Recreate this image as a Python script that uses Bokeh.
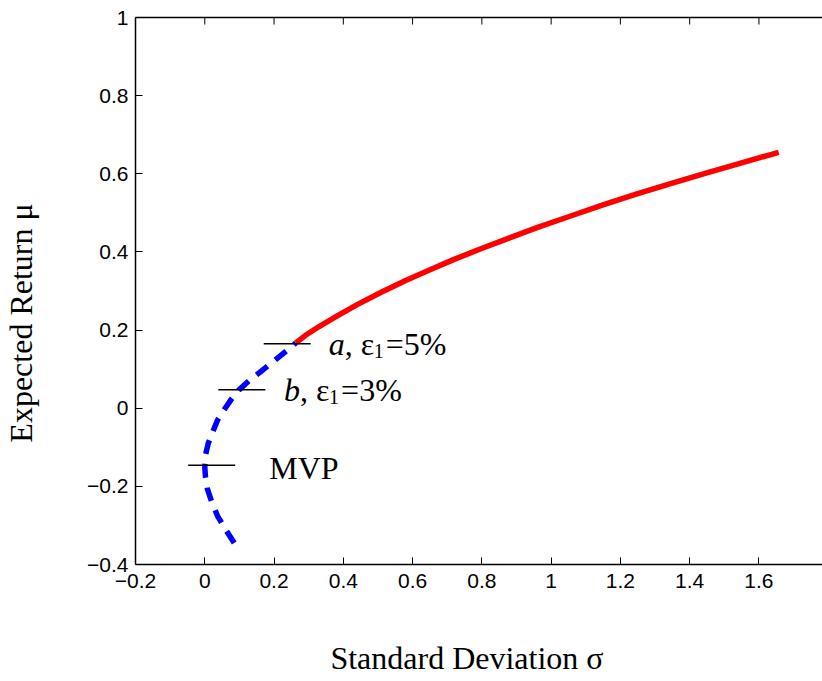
import math
from bokeh.plotting import figure
from bokeh.models import LinearAxis, Label, FixedTicker, Range1d
from bokeh.embed import file_html
from bokeh.resources import INLINE

# ---- data ----
# lower (inefficient) part of the frontier, blue dashed
sigma_low = [0.085, 0.060, 0.037, 0.020, 0.008, 0.002, 0.000, 0.002, 0.010, 0.022,
             0.037, 0.056, 0.076, 0.099, 0.130, 0.162, 0.210, 0.263]
mu_low = [-0.345, -0.310, -0.276, -0.240, -0.208, -0.175, -0.150, -0.120, -0.090, -0.063,
          -0.030, -0.004, 0.022, 0.047, 0.072, 0.094, 0.128, 0.167]

# upper (efficient) part of the frontier, red solid
sigma_high = [0.263, 0.290, 0.330, 0.380, 0.440, 0.508, 0.580, 0.652, 0.720, 0.797,
              0.880, 0.961, 1.050, 1.152, 1.250, 1.345, 1.452, 1.550, 1.657]
mu_high = [0.167, 0.186, 0.209, 0.235, 0.265, 0.296, 0.327, 0.355, 0.381, 0.408,
           0.436, 0.463, 0.490, 0.521, 0.549, 0.575, 0.603, 0.628, 0.655]

# horizontal markers (centre sigma, mu)
mark_sigma = [0.238, 0.107, 0.020]
mark_mu = [0.165, 0.047, -0.146]

x_ticks = [-0.2, 0, 0.2, 0.4, 0.6, 0.8, 1, 1.2, 1.4, 1.6]
x_labels = ["\u22120.2", "0", "0.2", "0.4", "0.6", "0.8", "1", "1.2", "1.4", "1.6"]
y_ticks = [-0.4, -0.2, 0, 0.2, 0.4, 0.6, 0.8, 1]
y_labels = ["\u22120.4", "\u22120.2", "0", "0.2", "0.4", "0.6", "0.8", "1"]

x_title = "Standard Deviation \u03c3"
y_title = "Expected Return \u03bc"

X_MIN, X_MAX = -0.2, 1.7835
Y_MIN, Y_MAX = -0.4, 1.0

# ---- figure ----
p = figure(width=822, height=681,
           x_range=Range1d(X_MIN, X_MAX), y_range=Range1d(Y_MIN, Y_MAX),
           x_axis_type=None, y_axis_type=None,
           output_backend="svg", toolbar_location=None,
           min_border_left=135, min_border_right=0,
           min_border_top=17, min_border_bottom=117)
p.outline_line_color = None
p.background_fill_color = "white"
p.border_fill_color = "white"

TICK_FONT = "Liberation Sans"
SERIF = "Liberation Serif"


def style_axis(ax):
    ax.axis_line_color = "black"
    ax.axis_line_width = 1.5
    ax.major_tick_line_color = "black"
    ax.major_tick_line_width = 1
    ax.major_tick_in = 7
    ax.major_tick_out = 0
    ax.minor_tick_in = 0
    ax.minor_tick_out = 0
    ax.major_label_text_font = TICK_FONT
    ax.major_label_text_font_size = "21px"
    ax.major_label_text_color = "black"
    ax.axis_label_text_font = SERIF
    ax.axis_label_text_font_size = "32px"
    ax.axis_label_text_font_style = "normal"
    ax.axis_label_text_color = "black"


xaxis = LinearAxis(ticker=FixedTicker(ticks=x_ticks),
                   major_label_overrides={t: l for t, l in zip(x_ticks, x_labels)},
                   axis_label=x_title + "\u00a0" * 3)
style_axis(xaxis)
xaxis.major_label_standoff = 9
xaxis.axis_label_standoff = 49
p.add_layout(xaxis, "below")

yaxis = LinearAxis(ticker=FixedTicker(ticks=y_ticks),
                   major_label_overrides={t: l for t, l in zip(y_ticks, y_labels)},
                   axis_label=y_title + "\u00a0" * 8)
style_axis(yaxis)
yaxis.major_label_standoff = 7
yaxis.axis_label_standoff = 45
p.add_layout(yaxis, "left")

# top box line (no ticks of its own) + inward ticks drawn at the top edge
topaxis = LinearAxis(ticker=FixedTicker(ticks=[]))
style_axis(topaxis)
topaxis.major_label_standoff = 0
p.add_layout(topaxis, "above")
p.scatter(x_ticks, [Y_MAX] * len(x_ticks), marker="dash", angle=math.pi / 2,
          size=14, line_color="black", line_width=1)

# ---- curves ----
p.line(sigma_low, mu_low, line_color="#0000FF", line_width=5.5,
       line_dash="14 10", line_join="round")
p.line(sigma_high, mu_high, line_color="#FF0000", line_width=5.5,
       line_join="round", line_cap="butt")

p.scatter(mark_sigma, mark_mu, marker="dash", size=47,
          line_color="black", line_width=1.5, fill_color=None)

# ---- annotations ----
FS = "32px"
SUB = "20px"


def eps_label(x, y, letter, pct):
    parts = [
        (letter, 0, 0, FS, "italic"),
        (", \u03b5", 16, 0, FS, "normal"),
        ("1", 45, -7, SUB, "normal"),
        ("=" + pct, 57, 0, FS, "normal"),
    ]
    for txt, dx, dy, fs, st in parts:
        p.add_layout(Label(x=x, y=y, text=txt, x_offset=dx, y_offset=dy,
                           text_font=SERIF, text_font_size=fs, text_font_style=st,
                           text_color="black", text_align="left",
                           text_baseline="alphabetic"))


eps_label(0.358, 0.165, "a", "5%")
eps_label(0.229, 0.047, "b", "3%")
p.add_layout(Label(x=0.186, y=-0.153, text="MVP", text_font=SERIF,
                   text_font_size=FS, text_color="black",
                   text_align="left", text_baseline="alphabetic"))

open("out.html", "w").write(file_html(p, INLINE))
